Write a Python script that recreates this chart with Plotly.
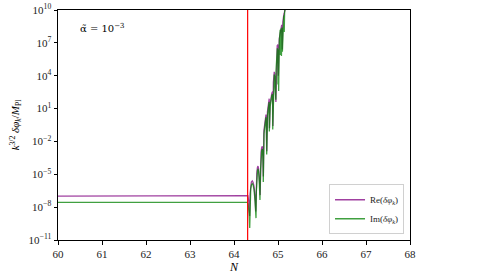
import plotly.graph_objects as go

# ---- data (N, log10 amplitude) ----
re_N = [60.0, 64.30, 64.315, 64.34, 64.355, 64.365, 64.378, 64.395, 64.416, 64.435, 64.455, 64.475, 64.495,
        64.505, 64.518, 64.532, 64.545, 64.558, 64.572, 64.585, 64.594,
        64.602, 64.615, 64.628, 64.643, 64.653, 64.66, 64.667,
        64.68, 64.70, 64.715, 64.727, 64.735, 64.745, 64.76, 64.785, 64.80, 64.806, 64.82, 64.86,
        64.878, 64.884, 64.895, 64.915, 64.928, 64.952, 64.965, 64.982, 64.995, 65.008,
        65.03, 65.07, 65.084, 65.096, 65.11, 65.135, 65.145, 65.17]
re_log = [-7.0, -7.0, -6.95, -7.6, -8.8, -6.8, -6.0, -5.7, -5.6, -5.75, -6.1, -6.9, -8.4,
          -6.2, -4.9, -4.4, -4.25, -4.45, -5.0, -6.0, -6.9,
          -4.3, -3.0, -2.6, -2.45, -2.7, -3.4, -5.2,
          -1.0, -0.1, 0.3, 0.45, -0.3, -2.9, 0.7, 1.75, 1.9, -0.8, 1.4, 2.4,
          2.55, -0.6, 3.4, 4.35, 4.2, 1.6, 5.4, 6.75, 6.85, 4.0,
          7.4, 8.6, 8.65, 6.4, 8.9, 9.65, 9.75, 10.3]

im_N = [60.0, 64.305, 64.32, 64.345, 64.357, 64.367, 64.38, 64.397, 64.416, 64.435, 64.455, 64.478, 64.50,
        64.508, 64.52, 64.534, 64.545, 64.558, 64.57, 64.582, 64.59,
        64.604, 64.617, 64.63, 64.643, 64.653, 64.66, 64.666,
        64.682, 64.702, 64.715, 64.725, 64.735, 64.743, 64.762, 64.787, 64.798, 64.803, 64.822, 64.86,
        64.875, 64.88, 64.897, 64.915, 64.926, 64.95, 64.955, 64.968, 64.985, 64.993, 65.0,
        65.005, 65.015, 65.03, 65.05, 65.055, 65.07, 65.078, 65.082, 65.09, 65.1, 65.112,
        65.12, 65.13, 65.138, 65.142, 65.15, 65.17]
im_log = [-7.56, -7.56, -7.7, -8.6, -9.9, -7.3, -6.3, -5.95, -5.85, -6.0, -6.4, -7.4, -9.0,
          -6.6, -5.2, -4.65, -4.5, -4.7, -5.3, -6.5, -7.35,
          -4.6, -3.3, -2.85, -2.7, -3.0, -3.8, -5.7,
          -1.3, -0.4, 0.05, 0.2, -0.8, -3.2, 0.4, 1.5, 1.6, -1.1, 1.2, 2.2,
          2.3, -0.9, 3.1, 4.1, 3.9, 1.8, 4.5, 5.3, 6.5, 6.3, 3.2,
          6.4, 2.6, 7.2, 8.2, 5.9, 8.3, 5.8, 8.4, 8.4, 6.2, 8.8,
          7.0, 9.4, 9.5, 8.0, 9.8, 10.3]

vline_N = 64.31
alpha_label = "α̃ = 10<sup>−3</sup>"
x_ticks = [60, 61, 62, 63, 64, 65, 66, 67, 68]
y_exps = [-11, -8, -5, -2, 1, 4, 7, 10]

FONT = "Liberation Serif"

fig = go.Figure()
fig.add_trace(go.Scatter(
    x=re_N, y=[10 ** v for v in re_log], mode="lines",
    line=dict(color="rgba(128,0,128,0.75)", width=1.3),
    name="Re(<i>δφ</i><sub><i>k</i></sub>)"))
fig.add_trace(go.Scatter(
    x=im_N, y=[10 ** v for v in im_log], mode="lines",
    line=dict(color="rgba(0,128,0,0.75)", width=1.3),
    name="Im(<i>δφ</i><sub><i>k</i></sub>)"))

fig.add_shape(type="line", x0=vline_N, x1=vline_N, y0=0, y1=1, xref="x", yref="paper",
              line=dict(color="red", width=1.2))

fig.add_annotation(x=0.057, y=0.92, xref="paper", yref="paper", text=alpha_label,
                   showarrow=False, xanchor="left", yanchor="middle",
                   font=dict(family="DejaVu Serif", size=10, color="black"))

fig.update_xaxes(range=[60, 68], tickvals=x_ticks, ticktext=[str(t) for t in x_ticks],
                 automargin=False,
                 showgrid=False, zeroline=False, showline=True, linecolor="black",
                 linewidth=1, mirror=True, ticks="outside", ticklen=3.5, tickcolor="black",
                 tickfont=dict(family=FONT, size=11, color="#222"),
                 title=dict(text="<i>N</i>", font=dict(family=FONT, size=12, color="black"),
                            standoff=0))
fig.update_yaxes(type="log", range=[-11, 10], tickvals=[10 ** e for e in y_exps],
                 ticktext=["10<sup>%s</sup>" % (str(e).replace("-", "−")) for e in y_exps],
                 automargin=False,
                 showgrid=False, zeroline=False, showline=True, linecolor="black",
                 linewidth=1, mirror=True, ticks="outside", ticklen=3.5, tickcolor="black",
                 tickfont=dict(family=FONT, size=11, color="#222"),
                 title=dict(text="<i>k</i><sup>3/2</sup> <i>δφ</i><sub><i>k</i></sub>/<i>M</i><sub>Pl</sub>",
                            font=dict(family=FONT, size=11, color="black"), standoff=6))

fig.update_layout(
    width=480, height=277,
    margin=dict(l=58, r=70, t=10, b=37, autoexpand=False),
    paper_bgcolor="white", plot_bgcolor="white",
    showlegend=True,
    legend=dict(x=0.983, y=0.025, xanchor="right", yanchor="bottom",
                bgcolor="rgba(255,255,255,0.85)", bordercolor="#d0d0d0", borderwidth=1,
                font=dict(family=FONT, size=9, color="#222"),
                itemwidth=30, tracegroupgap=0),
)

fig.write_html("out.html", config={"displayModeBar": False},
               post_script="document.body.style.margin='0';document.body.style.padding='0';")
